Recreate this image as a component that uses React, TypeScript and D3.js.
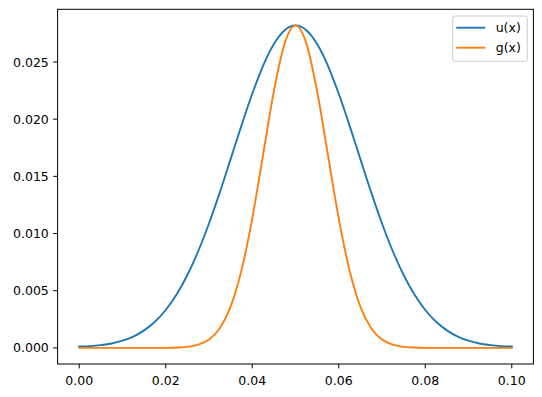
import React from "react";
import * as d3 from "d3";

const W = 542;
const H = 397;
// axes box (pixels)
const BOX = { left: 57.6, right: 533.4, top: 9.3, bottom: 364 };
const FONT = "DejaVu Sans, sans-serif";
const FS = 12.5;

const xValues = [
  0, 0.0025, 0.005, 0.0075, 0.01, 0.0125, 0.015, 0.0175, 0.02, 0.0225,
  0.025, 0.0275, 0.03, 0.0325, 0.035, 0.0375, 0.04, 0.0425, 0.045, 0.0475,
  0.05, 0.0525, 0.055, 0.0575, 0.06, 0.0625, 0.065, 0.0675, 0.07, 0.0725,
  0.075, 0.0775, 0.08, 0.0825, 0.085, 0.0875, 0.09, 0.0925, 0.095, 0.0975,
  0.1,
];

const uValues = [
  0.00012, 0.00015, 0.00024, 0.00038, 0.00063, 0.00099, 0.00153, 0.00228,
  0.00331, 0.00466, 0.00637, 0.00845, 0.01088, 0.0136, 0.01651, 0.01944,
  0.02222, 0.02467, 0.02657, 0.02778, 0.0282, 0.02778, 0.02657, 0.02467,
  0.02222, 0.01944, 0.01651, 0.0136, 0.01088, 0.00845, 0.00637, 0.00466,
  0.00331, 0.00228, 0.00153, 0.00099, 0.00063, 0.00038, 0.00024, 0.00015,
  0.00012,
];

const gValues = [
  0, 0, 0, 0, 0, 0, 0, 0, 0, 0.00003, 0.00009, 0.00028, 0.00073, 0.00172,
  0.00361, 0.00677, 0.01131, 0.01687, 0.02244, 0.02663, 0.0282, 0.02663,
  0.02244, 0.01687, 0.01131, 0.00677, 0.00361, 0.00172, 0.00073, 0.00028,
  0.00009, 0.00003, 0, 0, 0, 0, 0, 0, 0, 0, 0,
];

const xTicks = [0, 0.02, 0.04, 0.06, 0.08, 0.1];
const yTicks = [0, 0.005, 0.01, 0.015, 0.02, 0.025];

const seriesNames = ["u(x)", "g(x)"];
const seriesColors = ["#1f77b4", "#ff7f0e"];

export default function App() {
  const xScale = d3
    .scaleLinear()
    .domain([-0.005, 0.105])
    .range([BOX.left, BOX.right]);
  const yScale = d3
    .scaleLinear()
    .domain([-0.00141, 0.02961])
    .range([BOX.bottom, BOX.top]);

  const line = d3
    .line<number>()
    .x((_, i) => xScale(xValues[i]))
    .y((d) => yScale(d))
    .curve(d3.curveMonotoneX);

  const series = [uValues, gValues];
  const fx = d3.format(".2f");
  const fy = d3.format(".3f");

  const legX = 452.7;
  const legY = 16;

  return (
    <svg
      width={W}
      height={H}
      style={{ position: "absolute", left: 0, top: 0, background: "#fff" }}
      fontFamily={FONT}
      fontSize={FS}
    >
      <rect x={0} y={0} width={W} height={H} fill="#fff" />
      <g>
        {series.map((s, i) => (
          <path
            key={i}
            d={line(s) || ""}
            fill="none"
            stroke={seriesColors[i]}
            strokeWidth={1.9}
            strokeLinejoin="round"
            strokeLinecap="square"
          />
        ))}
      </g>
      {/* spines */}
      <rect
        x={BOX.left}
        y={BOX.top}
        width={BOX.right - BOX.left}
        height={BOX.bottom - BOX.top}
        fill="none"
        stroke="#000"
        strokeWidth={1}
      />
      {/* x axis */}
      {xTicks.map((t) => (
        <g key={t} transform={`translate(${xScale(t)},${BOX.bottom})`}>
          <line y1={0} y2={4.4} stroke="#000" strokeWidth={1} />
          <text y={21} textAnchor="middle" fill="#000">
            {fx(t)}
          </text>
        </g>
      ))}
      {/* y axis */}
      {yTicks.map((t) => (
        <g key={t} transform={`translate(${BOX.left},${yScale(t)})`}>
          <line x1={0} x2={-4.4} stroke="#000" strokeWidth={1} />
          <text x={-8.8} y={4.6} textAnchor="end" fill="#000">
            {fy(t)}
          </text>
        </g>
      ))}
      {/* legend */}
      <rect
        x={legX}
        y={legY}
        width={74.6}
        height={45.3}
        rx={2.5}
        fill="#fff"
        fillOpacity={0.8}
        stroke="#ccc"
        strokeWidth={1}
      />
      {seriesNames.map((n, i) => (
        <g key={n} transform={`translate(${legX}, ${legY + 11.7 + i * 20})`}>
          <line x1={3.5} x2={32.5} stroke={seriesColors[i]} strokeWidth={1.9} />
          <text x={43} y={4.5} fill="#000">
            {n}
          </text>
        </g>
      ))}
    </svg>
  );
}
